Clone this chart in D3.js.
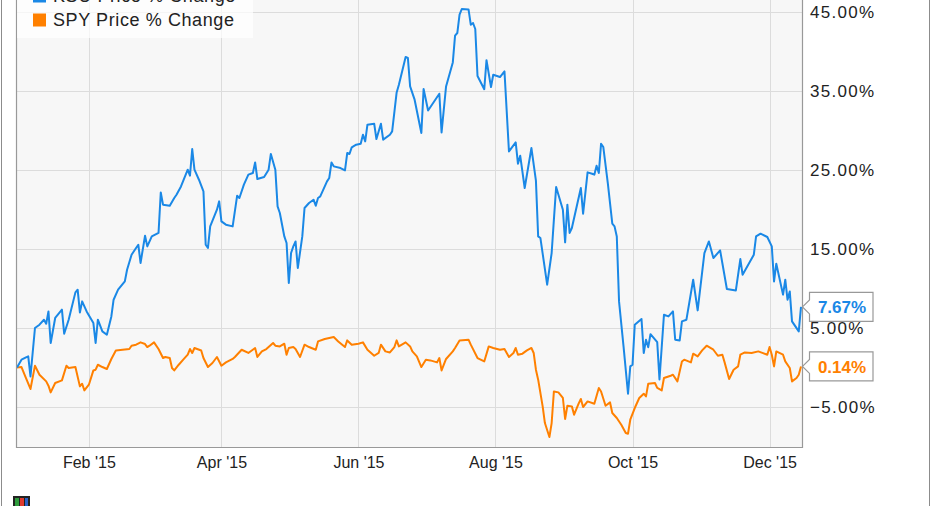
<!DOCTYPE html>
<html>
<head>
<meta charset="utf-8">
<script src="https://cdn.jsdelivr.net/npm/d3@7/dist/d3.min.js"></script>
<style>
  html, body { margin: 0; padding: 0; background: #ffffff; }
  svg { display: block; }
  text { font-family: "Liberation Sans", Arial, Helvetica, sans-serif; }
</style>
</head>
<body>
<svg id="chart" width="931" height="506"></svg>
<script>
// ---------------- DATA ----------------
const seriesNames = ["KSU Price % Change", "SPY Price % Change"];
const seriesColors = ["#1a88e6", "#ff8000"];

const stockDates = [
  "2014-12-31","2015-01-02","2015-01-04","2015-01-05","2015-01-06","2015-01-08","2015-01-10","2015-01-12","2015-01-13","2015-01-14",
  "2015-01-15","2015-01-17","2015-01-19","2015-01-20","2015-01-21","2015-01-23","2015-01-26","2015-01-27","2015-01-28","2015-01-29",
  "2015-01-31","2015-02-03","2015-02-04","2015-02-05","2015-02-07","2015-02-09","2015-02-11","2015-02-12","2015-02-14","2015-02-17",
  "2015-02-18","2015-02-20","2015-02-22","2015-02-23","2015-02-24","2015-02-26","2015-02-27",
  "2015-03-01","2015-03-04","2015-03-05","2015-03-06","2015-03-09","2015-03-11","2015-03-12","2015-03-14","2015-03-17","2015-03-18",
  "2015-03-19","2015-03-20","2015-03-22","2015-03-24","2015-03-25","2015-03-26","2015-03-27","2015-03-30","2015-03-31",
  "2015-04-01","2015-04-03","2015-04-06","2015-04-08","2015-04-09","2015-04-11","2015-04-13","2015-04-15","2015-04-16","2015-04-17",
  "2015-04-20","2015-04-22","2015-04-23","2015-04-25","2015-04-26","2015-04-27","2015-04-29","2015-04-30",
  "2015-05-01","2015-05-02","2015-05-03","2015-05-04","2015-05-05","2015-05-07","2015-05-08","2015-05-10","2015-05-12","2015-05-13",
  "2015-05-14","2015-05-15","2015-05-18","2015-05-19","2015-05-20","2015-05-21","2015-05-24","2015-05-26","2015-05-27","2015-05-28",
  "2015-05-29","2015-05-31",
  "2015-06-02","2015-06-03","2015-06-04","2015-06-05","2015-06-08","2015-06-09","2015-06-11","2015-06-12","2015-06-15","2015-06-16",
  "2015-06-18","2015-06-19","2015-06-22","2015-06-23","2015-06-24","2015-06-26","2015-06-29","2015-06-30",
  "2015-07-02","2015-07-07","2015-07-08","2015-07-10","2015-07-13","2015-07-14","2015-07-15","2015-07-16","2015-07-17","2015-07-20",
  "2015-07-21","2015-07-22","2015-07-23","2015-07-24","2015-07-27","2015-07-28","2015-07-30","2015-07-31",
  "2015-08-03","2015-08-05","2015-08-07","2015-08-10","2015-08-11","2015-08-12","2015-08-14","2015-08-17","2015-08-19","2015-08-20",
  "2015-08-21","2015-08-24","2015-08-26","2015-08-27","2015-08-28","2015-08-31",
  "2015-09-01","2015-09-02","2015-09-03","2015-09-04","2015-09-08","2015-09-09","2015-09-11","2015-09-13","2015-09-14","2015-09-15",
  "2015-09-16","2015-09-17","2015-09-18","2015-09-20","2015-09-22","2015-09-23","2015-09-24","2015-09-25","2015-09-27","2015-09-29",
  "2015-09-30",
  "2015-10-01","2015-10-02","2015-10-05","2015-10-06","2015-10-07","2015-10-08","2015-10-09","2015-10-12","2015-10-13","2015-10-15",
  "2015-10-17","2015-10-19","2015-10-20","2015-10-22","2015-10-23","2015-10-25","2015-10-28","2015-10-30",
  "2015-11-02","2015-11-04","2015-11-06","2015-11-09","2015-11-12","2015-11-16","2015-11-18","2015-11-19","2015-11-24","2015-11-25",
  "2015-11-27","2015-11-30",
  "2015-12-02","2015-12-03","2015-12-04","2015-12-07","2015-12-08","2015-12-09","2015-12-10","2015-12-11","2015-12-14","2015-12-15"
];
const stockValues = [
  0, 0.99, 1.28, 1.41, -1.13, 5.0, 5.42, 6.05, 5.54, 7.10,
  3.10, 6.27, 6.97, 7.32, 4.28, 6.05, 9.51, 9.85, 6.97, 8.37,
  7.10, 5.63, 3.10, 6.05, 4.57, 4.15, 6.47, 8.58, 9.85, 10.90,
  12.38, 14.28, 15.13, 15.54, 13.23, 16.68, 15.33,
  16.59, 17.03, 22.16, 20.61, 20.48, 21.46, 21.87, 22.92, 25.04, 24.28,
  27.66, 25.04, 23.77, 22.29, 15.54, 15.13, 17.86, 19.97, 21.03,
  18.49, 18.08, 17.86, 21.75, 21.46, 23.14, 24.41, 24.62, 25.96, 23.86,
  24.11, 25.04, 27.03, 25.04, 20.39, 19.56, 16.59, 15.76,
  10.70, 14.49, 15.33, 15.96, 12.59, 16.59, 20.19, 20.82, 21.24, 20.48,
  21.46, 21.66, 23.56, 23.99, 25.96, 25.46, 25.25, 24.95, 27.15, 27.03,
  27.86, 28.20,
  28.33, 29.47, 28.62, 30.73, 30.86, 28.92, 30.86, 28.84, 29.47, 29.89,
  34.82, 35.80, 39.30, 39.18, 35.58, 33.90, 29.68, 35.25,
  32.54, 34.66, 29.76, 35.58, 38.62, 42.00, 42.34, 44.66, 45.38, 45.32,
  43.39, 43.61, 42.85, 36.90, 35.23, 38.90, 35.51, 37.06,
  36.77, 37.48, 27.35, 28.49, 25.80, 26.81, 22.72, 27.78, 23.65, 16.59,
  16.39, 10.48, 14.49, 18.71, 22.85, 19.97,
  15.84, 20.61, 17.03, 17.66, 22.72, 19.47, 24.70, 24.53, 24.41, 25.54,
  24.62, 28.33, 27.91, 23.35, 18.20, 17.86, 16.59, 8.37, 2.67, -3.32,
  0.14,
  0.35, 5.42, 6.14, 1.84, 3.52, 2.57, 4.22, 3.20, -1.51, 6.68,
  6.47, 7.10, 3.52, 3.43, 5.84, 6.05, 11.11, 7.23,
  14.49, 15.96, 13.86, 14.82, 9.94, 9.76, 13.73, 11.75, 14.28, 16.59,
  16.94, 16.52,
  15.33, 10.90, 13.14, 9.22, 11.11, 8.58, 9.63, 5.84, 4.57, 7.67
];

const spyDates = [
  "2014-12-31","2015-01-02","2015-01-04","2015-01-06","2015-01-08","2015-01-10","2015-01-13","2015-01-14","2015-01-15","2015-01-17",
  "2015-01-20","2015-01-22","2015-01-23","2015-01-26","2015-01-28","2015-01-29","2015-01-30",
  "2015-02-01","2015-02-03","2015-02-04","2015-02-05","2015-02-07","2015-02-09","2015-02-11","2015-02-13","2015-02-19","2015-02-20",
  "2015-02-22","2015-02-24","2015-02-26","2015-02-27","2015-02-28",
  "2015-03-02","2015-03-04","2015-03-06","2015-03-07","2015-03-09","2015-03-10","2015-03-11","2015-03-13","2015-03-15","2015-03-17",
  "2015-03-18","2015-03-19","2015-03-20","2015-03-23","2015-03-24","2015-03-26","2015-03-28","2015-03-30",
  "2015-04-01","2015-04-03","2015-04-06","2015-04-07","2015-04-10","2015-04-13","2015-04-16","2015-04-17","2015-04-19","2015-04-21",
  "2015-04-24","2015-04-25","2015-04-27","2015-04-29","2015-04-30",
  "2015-05-01","2015-05-03","2015-05-04","2015-05-06","2015-05-08","2015-05-10","2015-05-13","2015-05-14","2015-05-17","2015-05-19",
  "2015-05-21","2015-05-23","2015-05-26","2015-05-27","2015-05-29",
  "2015-06-01","2015-06-03","2015-06-05","2015-06-08","2015-06-10","2015-06-11","2015-06-13","2015-06-15","2015-06-17","2015-06-18",
  "2015-06-19","2015-06-22","2015-06-24","2015-06-25","2015-06-27","2015-06-29",
  "2015-07-01","2015-07-03","2015-07-06","2015-07-07","2015-07-08","2015-07-10","2015-07-13","2015-07-14","2015-07-16","2015-07-20",
  "2015-07-21","2015-07-24","2015-07-27","2015-07-29","2015-07-31",
  "2015-08-03","2015-08-05","2015-08-07","2015-08-09","2015-08-10","2015-08-11","2015-08-13","2015-08-15","2015-08-17","2015-08-18",
  "2015-08-19","2015-08-20","2015-08-22","2015-08-23","2015-08-25","2015-08-26","2015-08-27","2015-08-29","2015-08-31",
  "2015-09-01","2015-09-02","2015-09-04","2015-09-05","2015-09-07","2015-09-08","2015-09-09","2015-09-11","2015-09-14","2015-09-16",
  "2015-09-17","2015-09-19","2015-09-21","2015-09-22","2015-09-24","2015-09-26","2015-09-28","2015-09-29","2015-09-30",
  "2015-10-02","2015-10-04","2015-10-06","2015-10-07","2015-10-08","2015-10-11","2015-10-12","2015-10-14","2015-10-15","2015-10-18",
  "2015-10-19","2015-10-21","2015-10-23","2015-10-24","2015-10-27","2015-10-28","2015-10-30",
  "2015-11-01","2015-11-03","2015-11-06","2015-11-08","2015-11-10","2015-11-11","2015-11-13","2015-11-15","2015-11-17","2015-11-18",
  "2015-11-20","2015-11-23","2015-11-26","2015-11-30",
  "2015-12-01","2015-12-02","2015-12-03","2015-12-04","2015-12-07","2015-12-08","2015-12-10","2015-12-11","2015-12-13","2015-12-14",
  "2015-12-15"
];
const spyValues = [
  0, 0.06, -1.33, -2.72, 0.23, -0.91, -1.76, -2.30, -3.15, -1.96,
  -1.63, 0.23, -0.06, 0.06, -2.39, -2.05, -2.90,
  -2.18, -0.37, -0.28, 0.35, 0.06, -0.19, 1.08, 2.16, 2.34, 2.76,
  2.89, 3.18, 2.97, 2.59, 2.76,
  3.18, 2.34, 1.20, 1.33, 1.20, -0.06, -0.37, 0.35, 0.99, 1.62,
  2.34, 1.84, 2.47, 2.16, 1.20, 0.06, 0.57, 1.33,
  0.23, 0.65, 1.08, 1.33, 2.25, 1.84, 2.47, 1.33, 2.04, 2.34,
  3.10, 2.76, 2.67, 3.01, 1.62,
  2.47, 2.59, 2.34, 1.33, 2.89, 2.59, 2.25, 3.30, 3.61, 3.73,
  3.86, 3.30, 2.59, 3.43, 2.89,
  3.01, 3.18, 2.25, 1.49, 1.84, 2.89, 2.04, 1.91, 2.59, 3.43,
  2.67, 3.18, 2.67, 2.04, 1.41, 0.06,
  0.99, 0.90, 0.65, 1.20, -0.37, 1.08, 2.04, 2.47, 3.43, 3.52,
  2.89, 1.20, 0.77, 2.67, 2.47,
  2.25, 2.34, 1.33, 1.84, 2.47, 1.62, 1.75, 2.16, 2.47, 1.84,
  -0.28, -1.54, -4.92, -7.03, -8.80, -7.03, -3.03, -3.15, -3.86,
  -6.52, -4.84, -4.92, -5.97, -4.58, -3.99, -5.00, -4.29, -4.58, -2.59,
  -3.03, -4.84, -4.42, -5.76, -6.39, -7.24, -8.29, -8.38, -6.61,
  -5.13, -3.86, -3.32, -3.66, -2.05, -1.96, -2.59, -2.90, -1.33, -1.04,
  -0.91, -1.76, 0.77, 0.99, 0.65, 1.75, 1.41,
  2.16, 2.76, 2.25, 1.49, 1.62, 0.65, -1.46, -0.28, 0.14, 1.62,
  1.91, 1.84, 2.04, 1.62,
  2.59, 1.62, 0.14, 2.04, 1.62, 0.77, -0.06, -1.76, -1.33, -0.91,
  0.14
];

const xTickDates = ["2015-02-01","2015-04-01","2015-06-01","2015-08-01","2015-10-01","2015-12-01"];
const yTickValues = [-5, 5, 15, 25, 35, 45];
const xDomain = ["2014-12-31", "2015-12-15"];
const yDomain = [-5, 45];

// ---------------- CHART ----------------
const parse = d3.timeParse("%Y-%m-%d");
const svg = d3.select("#chart");
const W = 931, H = 506;
const plot = { left: 16, right: 802, top: -10, bottom: 447 };

const x = d3.scaleTime().domain(xDomain.map(parse)).range([17, 801]);
const y = d3.scaleLinear().domain(yDomain).range([407, 12]);

// outer frame
svg.append("rect").attr("x", 1.5).attr("y", -5).attr("width", 928).attr("height", 530)
  .attr("fill", "#fff").attr("stroke", "#8c8c8c").attr("stroke-width", 1);

// plot background
svg.append("rect").attr("x", plot.left).attr("y", plot.top)
  .attr("width", plot.right - plot.left).attr("height", plot.bottom - plot.top)
  .attr("fill", "#f7f7f7");

// grid
const grid = svg.append("g");
grid.selectAll("line.h").data(yTickValues).join("line")
  .attr("x1", plot.left).attr("x2", plot.right)
  .attr("y1", d => Math.round(y(d)) + 0.5).attr("y2", d => Math.round(y(d)) + 0.5)
  .attr("stroke", "#dcdcdc").attr("stroke-width", 1);
grid.selectAll("line.v").data(xTickDates.map(parse)).join("line")
  .attr("y1", plot.top).attr("y2", plot.bottom)
  .attr("x1", d => Math.round(x(d)) + 0.5).attr("x2", d => Math.round(x(d)) + 0.5)
  .attr("stroke", "#dcdcdc").attr("stroke-width", 1);

// plot border
svg.append("path")
  .attr("d", `M${plot.left + 0.5},${plot.top} V${plot.bottom + 0.5} H${plot.right + 0.5} V${plot.top}`)
  .attr("fill", "none").attr("stroke", "#999").attr("stroke-width", 1.2);

// lines
svg.append("defs").append("clipPath").attr("id", "clip")
  .append("rect").attr("x", plot.left + 1).attr("y", plot.top)
  .attr("width", plot.right - plot.left - 1).attr("height", plot.bottom - plot.top);

const line = d3.line().x(d => x(d.date)).y(d => y(d.value));
const stockData = stockDates.map((d, i) => ({ date: parse(d), value: stockValues[i] }));
const spyData = spyDates.map((d, i) => ({ date: parse(d), value: spyValues[i] }));

const lines = svg.append("g").attr("clip-path", "url(#clip)");
lines.append("path").datum(spyData).attr("d", line)
  .attr("fill", "none").attr("stroke", seriesColors[1]).attr("stroke-width", 2)
  .attr("stroke-linejoin", "round");
lines.append("path").datum(stockData).attr("d", line)
  .attr("fill", "none").attr("stroke", seriesColors[0]).attr("stroke-width", 2)
  .attr("stroke-linejoin", "round");

// right axis labels
const yAxis = d3.axisRight(y).tickValues(yTickValues)
  .tickFormat(d => d3.format(".2f")(d) + "%").tickSize(0).tickPadding(8);
const ya = svg.append("g").attr("transform", `translate(${plot.right},0)`).call(yAxis);
ya.select(".domain").remove();
ya.selectAll("text").attr("font-size", 17).attr("fill", "#222")
  .attr("font-family", "'Liberation Sans', Arial, sans-serif")
  .style("letter-spacing", "1.3px");

// bottom axis labels
const xAxis = d3.axisBottom(x).tickValues(xTickDates.map(parse))
  .tickFormat(d3.timeFormat("%b '%y")).tickSize(0).tickPadding(10);
const xa = svg.append("g").attr("transform", `translate(0,${plot.bottom})`).call(xAxis);
xa.select(".domain").remove();
xa.selectAll("text").attr("font-size", 16).attr("fill", "#222")
  .attr("font-family", "'Liberation Sans', Arial, sans-serif");

// legend
const legend = svg.append("g");
legend.append("rect").attr("x", 17).attr("y", -20).attr("width", 236).attr("height", 58)
  .attr("fill", "#ffffff").attr("fill-opacity", 0.72);
seriesNames.forEach((name, i) => {
  const cy = -4 + i * 24;
  legend.append("rect").attr("x", 33).attr("y", cy - 6.5).attr("width", 13).attr("height", 13)
    .attr("fill", seriesColors[i]);
  legend.append("text").attr("x", 53).attr("y", cy).attr("dy", "0.35em")
    .attr("font-size", 18).attr("fill", "#222").style("letter-spacing", "0.6px").text(name);
});

// last value flags
[[stockValues, seriesColors[0]], [spyValues, seriesColors[1]]].forEach(([vals, col]) => {
  const v = vals[vals.length - 1];
  const cy = y(v);
  const bx = 809, bw = 64, bh = 29;
  const g = svg.append("g");
  g.append("path")
    .attr("d", `M${plot.right + 0.5},${cy} L${bx + 0.5},${cy - 7} V${cy - bh / 2} H${bx + bw} V${cy + bh / 2} H${bx + 0.5} V${cy + 7} Z`)
    .attr("fill", "#fff").attr("stroke", "#999").attr("stroke-width", 1.2);
  g.append("text").attr("x", bx + bw / 2 + 1).attr("y", cy).attr("dy", "0.36em")
    .attr("text-anchor", "middle").attr("font-size", 17).attr("font-weight", "bold")
    .attr("fill", col).text(d3.format(".2f")(v) + "%");
});

// small logo at bottom-left
const logo = svg.append("g").attr("transform", "translate(13,496)");
logo.append("rect").attr("width", 17).attr("height", 12).attr("fill", "#222");
logo.append("rect").attr("x", 2).attr("y", 2).attr("width", 4).attr("height", 8).attr("fill", "#2e9c3c");
logo.append("rect").attr("x", 7).attr("y", 2).attr("width", 4).attr("height", 8).attr("fill", "#e03a2e");
logo.append("rect").attr("x", 12).attr("y", 2).attr("width", 3).attr("height", 8).attr("fill", "#2a62c9");
</script>
</body>
</html>
